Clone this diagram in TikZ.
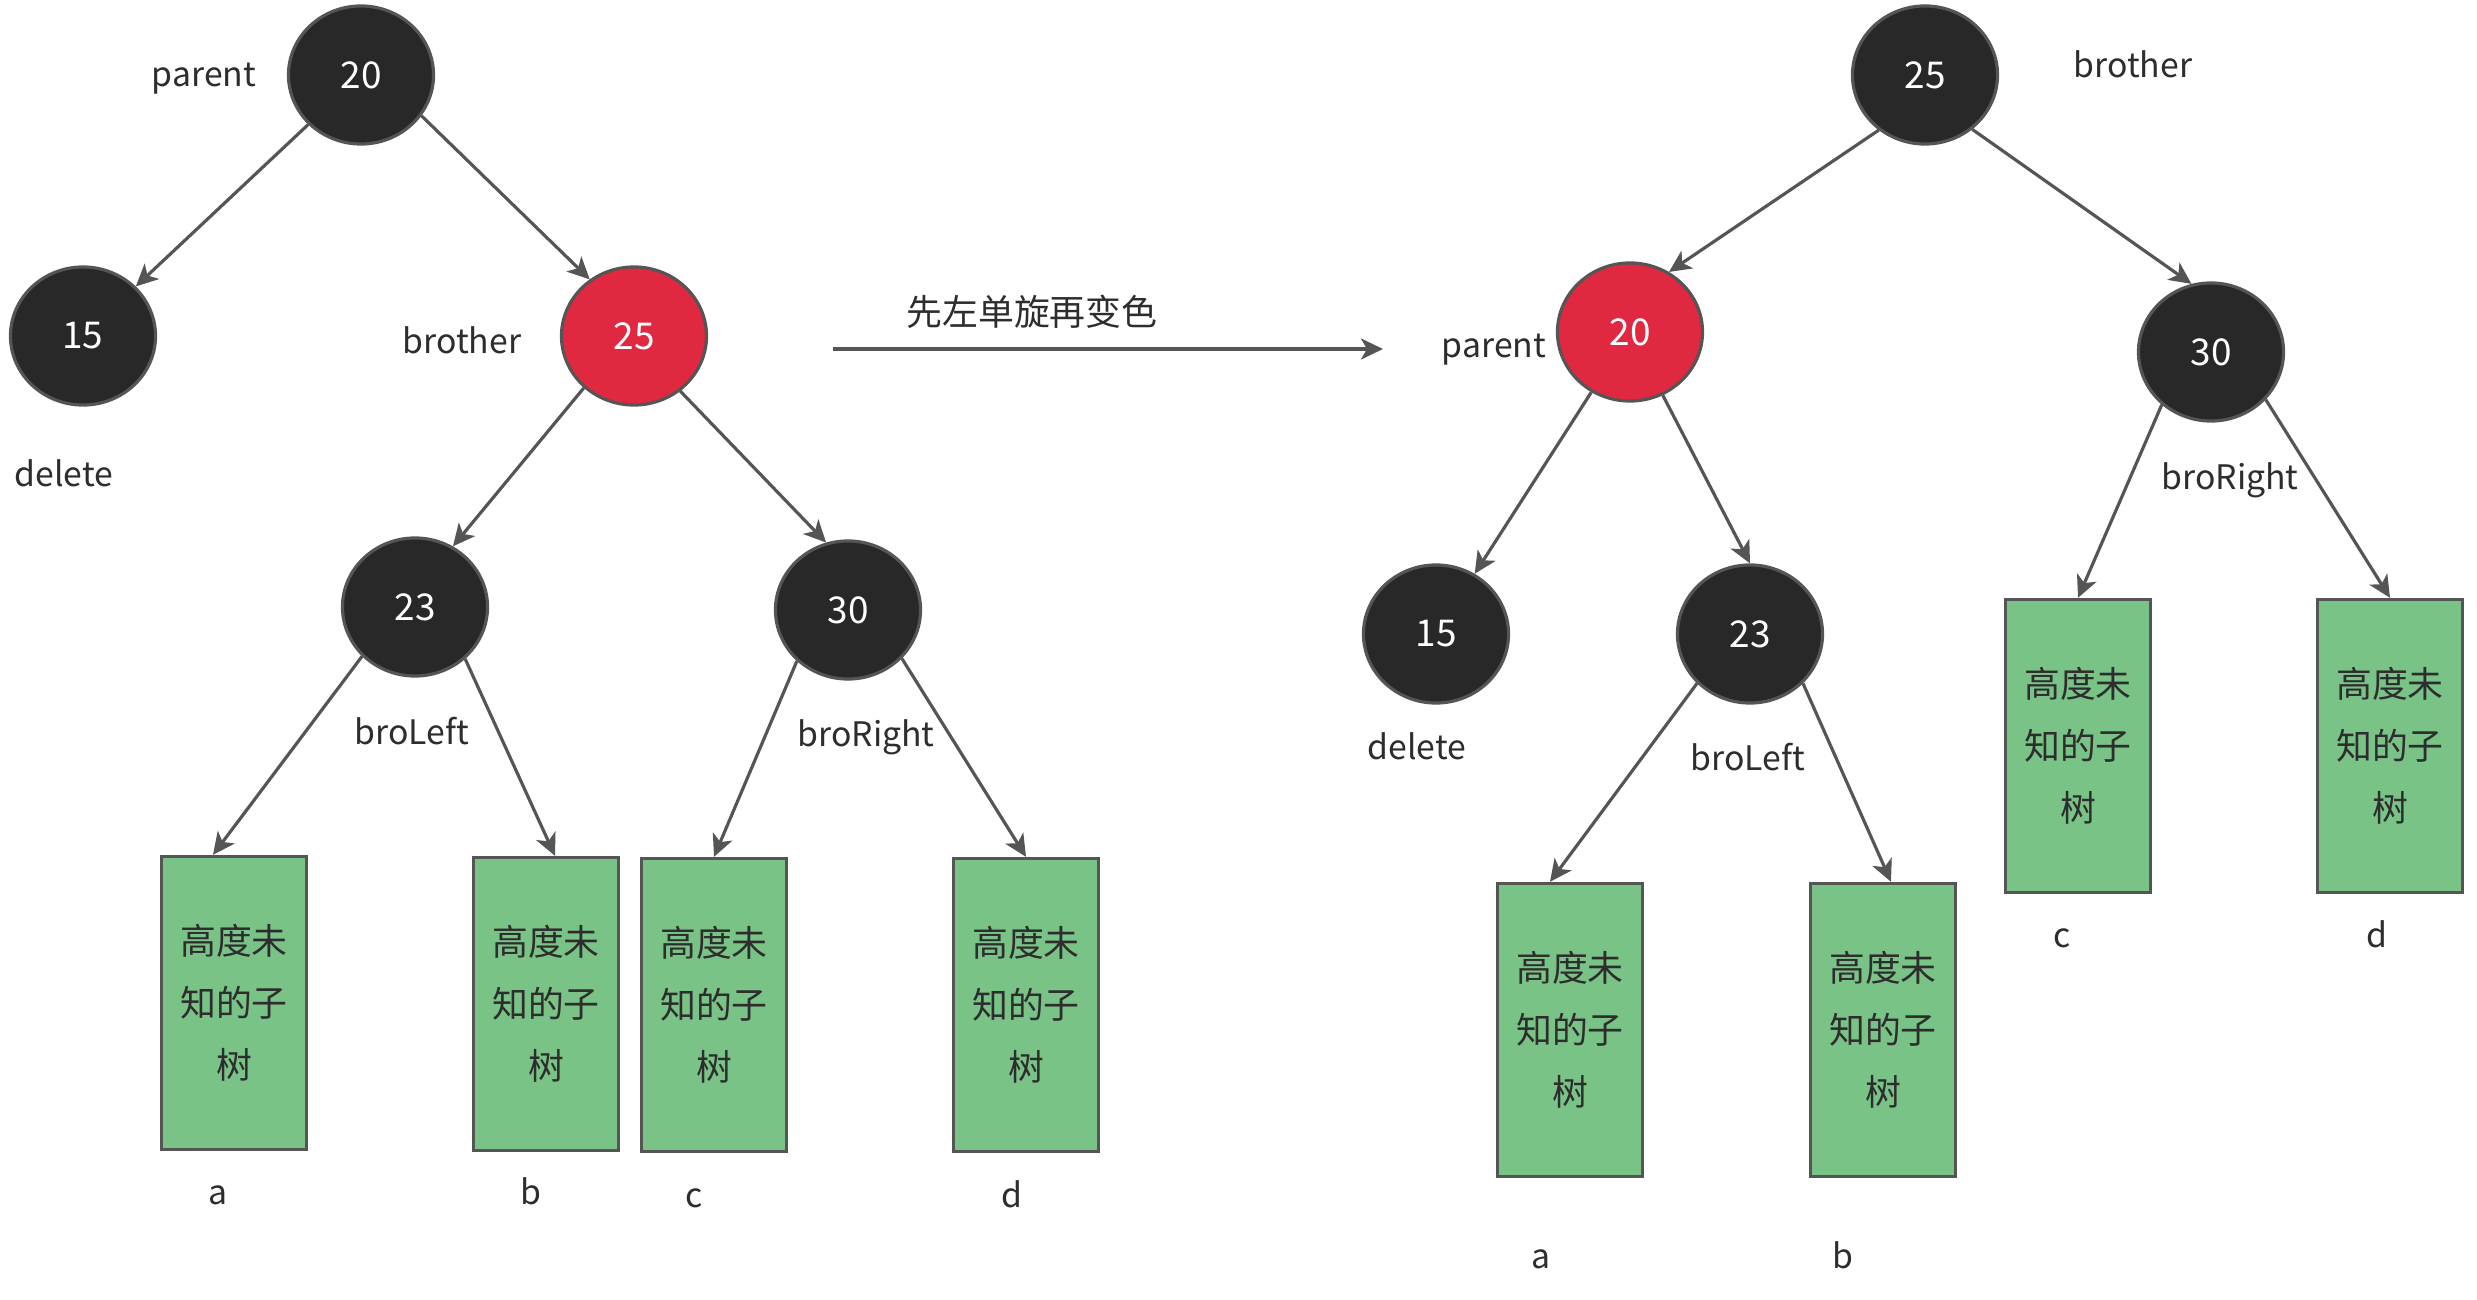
\documentclass[tikz,border=0pt]{standalone}
\usepackage{fontspec}
\setmainfont{Noto Sans CJK SC}
\usetikzlibrary{positioning,arrows.meta,calc,shapes.geometric}
\definecolor{nodeblk}{RGB}{40,40,40}
\definecolor{nodered}{RGB}{224,40,64}
\definecolor{subgreen}{RGB}{122,195,135}
\definecolor{edgegray}{RGB}{85,85,85}
\definecolor{txtgray}{RGB}{45,45,45}
\tikzset{
  rb/.style={ellipse,draw=edgegray,line width=0.9pt,minimum width=1.45cm,minimum height=1.38cm,inner sep=0pt,text=white,font=\fontsize{10.5}{13}\selectfont},
  bnode/.style={rb,fill=nodeblk},
  rnode/.style={rb,fill=nodered},
  subt/.style={draw=edgegray,line width=0.9pt,fill=subgreen,minimum width=1.45cm,minimum height=2.93cm,align=center,inner sep=0pt,font=\fontsize{10.2}{17.6}\selectfont,text=txtgray},
  lbl/.style={anchor=base,font=\fontsize{9.6}{12}\selectfont,text=txtgray},
  ar/.style={-{Stealth[length=2.2mm,width=2.1mm,inset=0.6mm]},line width=0.9pt,draw=edgegray},
}
\begin{document}
\begin{tikzpicture}[x=0.01cm,y=-0.01cm]
  \useasboundingbox (0,0) rectangle (2477,1300);
  % left tree (before)
  \node[bnode] (L20) at (361,75) {20};
  \node[bnode] (L15) at (83,336) {15};
  \node[rnode] (L25) at (634,336) {25};
  \node[bnode] (L23) at (415,607) {23};
  \node[bnode] (L30) at (848,610) {30};
  \node[subt] (La) at (234,1003) {高度未\\知的子\\树};
  \node[subt] (Lb) at (546,1004) {高度未\\知的子\\树};
  \node[subt] (Lc) at (714,1005) {高度未\\知的子\\树};
  \node[subt] (Ld) at (1026,1005) {高度未\\知的子\\树};
  \node[lbl] (LtParent) at (204,87) {parent};
  \node[lbl] (LtBrother) at (462,354) {brother};
  \node[lbl] (LtDelete) at (64,486) {delete};
  \node[lbl] (LtBroLeft) at (412,744) {broLeft};
  \node[lbl] (LtBroRight) at (866,746) {broRight};
  \node[lbl] (LtA) at (218,1204) {a};
  \node[lbl] (LtB) at (531,1204) {b};
  \node[lbl] (LtC) at (694,1207) {c};
  \node[lbl] (LtD) at (1012,1207) {d};
  % arrows left
  \draw[ar] (L20) -- (L15);
  \draw[ar] (L20.326) -- (L25.128);
  \draw[ar] (L25.226) -- (L23.58);
  \draw[ar] (L25.310) -- (L30.108);
  \draw[ar] (L23.223) -- ([xshift=-2.1mm]La.north);
  \draw[ar] (L23.314) -- ([xshift=0.9mm]Lb.north);
  \draw[ar] (L30.225) -- (Lc.north);
  \draw[ar] (L30.318) -- (Ld.north);
  % rotation step
  \coordinate (rotS) at (833,349);
  \coordinate (rotE) at (1383,349);
  \draw[ar] (rotS) -- (rotE);
  \node[font=\fontsize{10.2}{12}\selectfont,text=txtgray] (rotTxt) at (1032,312) {先左单旋再变色};
  % right tree (after)
  \node[bnode] (R25) at (1925,75) {25};
  \node[rnode] (R20) at (1630,332) {20};
  \node[bnode] (R30) at (2211,352) {30};
  \node[bnode] (R15) at (1436,634) {15};
  \node[bnode] (R23) at (1750,634) {23};
  \node[subt] (Ra) at (1570,1030) {高度未\\知的子\\树};
  \node[subt] (Rb) at (1883,1030) {高度未\\知的子\\树};
  \node[subt] (Rc) at (2078,746) {高度未\\知的子\\树};
  \node[subt] (Rd) at (2390,746) {高度未\\知的子\\树};
  \node[lbl] (RtBrother) at (2133,78) {brother};
  \node[lbl] (RtParent) at (1494,358) {parent};
  \node[lbl] (RtBroRight) at (2230,489) {broRight};
  \node[lbl] (RtDelete) at (1417,759) {delete};
  \node[lbl] (RtBroLeft) at (1748,770) {broLeft};
  \node[lbl] (RtC) at (2062,947) {c};
  \node[lbl] (RtD) at (2377,947) {d};
  \node[lbl] (RtA) at (1541,1268) {a};
  \node[lbl] (RtB) at (1843,1268) {b};
  % arrows right
  \draw[ar] (R25.230) -- (R20.57);
  \draw[ar] (R25.311) -- (R30.106);
  \draw[ar] (R20) -- (R15);
  \draw[ar] (R20) -- (R23.north);
  \draw[ar] (R23.223) -- ([xshift=-2mm]Ra.north);
  \draw[ar] (R23.317) -- ([xshift=0.8mm]Rb.north);
  \draw[ar] (R30.227) -- (Rc.north);
  \draw[ar] (R30.319) -- (Rd.north);
\end{tikzpicture}
\end{document}
